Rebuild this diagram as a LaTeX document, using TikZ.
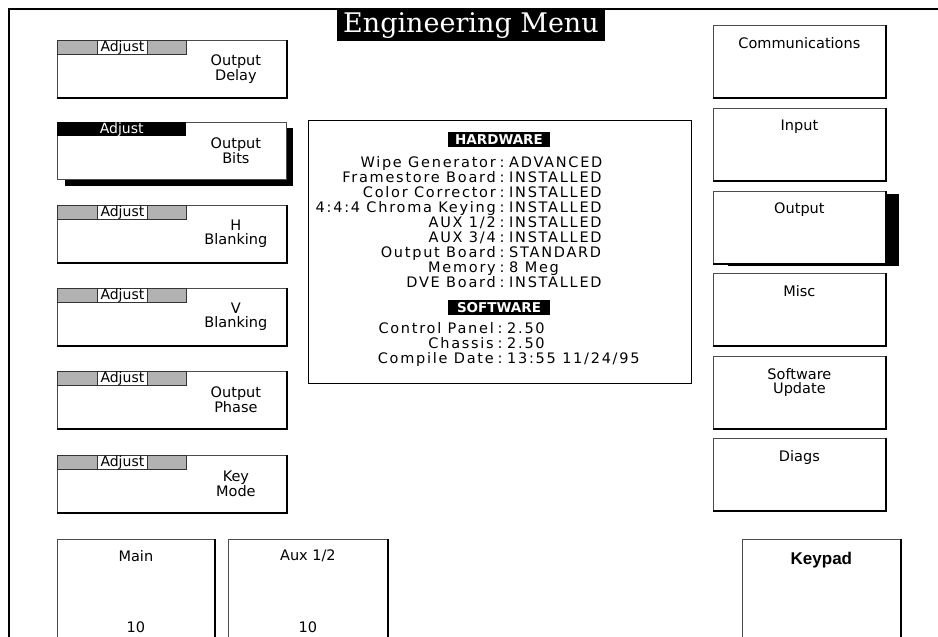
\documentclass[tikz,border=0pt]{standalone}
\usepackage{fontspec}
\setmainfont{DejaVu Sans}
\newfontfamily\titlefont{DejaVu Serif}
\newfontfamily\infofont[LetterSpace=12]{DejaVu Sans}
\newfontfamily\keyfont{Liberation Sans}
\usetikzlibrary{positioning}

\tikzset{
  adjbox/.style={draw=black!70, fill=white, line width=0.8pt, anchor=north west,
    minimum width=229, minimum height=57},
  menubox/.style={draw=black!70, fill=white, line width=0.8pt, anchor=north west,
    minimum width=172, minimum height=72},
  padbox/.style={draw=black!70, fill=white, line width=0.8pt, anchor=north west,
    minimum height=120},
  edge/.style={line width=1.8pt},
  tabgrey/.style={draw=black!80, fill=black!30, line width=0.8pt, anchor=north west,
    minimum width=129, minimum height=14},
  tabwhite/.style={draw=black!80, fill=white, line width=0.8pt, anchor=north west,
    minimum width=50, minimum height=14, text height=10pt, text depth=2pt,
    font=\fontsize{14}{14}\selectfont},
  tabblack/.style={fill=black, text=white, anchor=north west,
    minimum width=129, minimum height=14, text height=10pt, text depth=2pt,
    font=\fontsize{14}{14}\selectfont},
  btntext/.style={align=center, font=\fontsize{14.5}{14}\selectfont},
  tag/.style={fill=black, text=white, minimum width=102, minimum height=15,
    font=\bfseries\fontsize{13.5}{13}\selectfont},
  info/.style={font=\infofont\fontsize{14.5}{15}\selectfont}
}

\begin{document}
\begin{tikzpicture}[x=1pt, y=-1pt, every node/.append style={inner sep=0pt}]
  \useasboundingbox (0,0) rectangle (938,637);
  \clip (0,0) rectangle (938,637);

  % outer frame
  \draw[line width=1.2pt] (9,660) -- (9,9) -- (960,9);
  \node[fill=black, text=white, minimum width=268, minimum height=31,
    font=\titlefont\fontsize{27}{27}\selectfont] (title) at (471,25.5) {Engineering Menu};

  % adjust buttons
  \foreach \nm/\yy/\txt in {od/40/{Output\\Delay}, hb/205/{H\\Blanking},
      vb/288/{V\\Blanking}, oph/371/{Output\\Phase}, km/455/{Key\\Mode}} {
    \node[adjbox] (\nm) at (57,\yy) {};
    \draw[edge] (\nm.north east) -- (\nm.south east) -- (\nm.south west);
    \node[tabgrey] (\nm-tab) at (\nm.north west) {};
    \node[tabwhite] (\nm-adj) at ([xshift=40pt]\nm.north west) {Adjust};
    \node[btntext, xshift=64pt] (\nm-lbl) at (\nm.center) {\txt};
  }

  % selected one
  \fill (65,128) rectangle (293,186);
  \node[adjbox] (ob) at (57,122) {};
  \node[tabblack] (ob-adj) at (ob.north west) {Adjust};
  \node[btntext, xshift=64pt] (ob-lbl) at (ob.center) {Output\\Bits};

  % status panel
  \node[draw, line width=1pt, anchor=north west, minimum width=383,
    minimum height=263] (hw) at (308,120) {};
  \node[tag] (hwtag) at (499,139.5) {HARDWARE};
  \foreach \lab/\val [count=\i] in {Wipe Generator/ADVANCED,
      Framestore Board/INSTALLED, Color Corrector/INSTALLED,
      4:4:4 Chroma Keying/INSTALLED, {AUX 1/2}/INSTALLED, {AUX 3/4}/INSTALLED,
      Output Board/STANDARD, Memory/8 Meg, DVE Board/INSTALLED} {
    \node[info, anchor=base east] (hl\i) at (496,152+15*\i) {\lab};
    \node[info, anchor=base] (hc\i) at (502,152+15*\i) {:};
    \node[info, anchor=base west] (hv\i) at (509,152+15*\i) {\val};
  }
  \node[tag] (swtag) at (499,307.5) {SOFTWARE};
  \foreach \lab/\val [count=\i] in {Control Panel/2.50, Chassis/2.50,
      Compile Date/{13:55 11/24/95}} {
    \node[info, anchor=base east] (sl\i) at (494,318+15*\i) {\lab};
    \node[info, anchor=base] (sc\i) at (500,318+15*\i) {:};
    \node[info, anchor=base west] (sv\i) at (507,318+15*\i) {\val};
  }

  % menu column
  \fill (728,194) rectangle (899,266);
  \foreach \nm/\yy/\txt in {com/25/Communications, inp/108/Input, out/191/Output,
      misc/273/Misc, swu/356/{Software\\Update}, diag/438/Diags} {
    \node[menubox] (\nm) at (713,\yy) {};
    \draw[edge] (\nm.north east) -- (\nm.south east) -- (\nm.south west);
    \node[btntext, below=12pt of \nm.north] (\nm-lbl) {\txt};
  }

  % bottom row
  \node[padbox, minimum width=157] (main) at (57,539) {};
  \node[padbox, minimum width=159] (aux) at (228,539) {};
  \node[padbox, minimum width=158] (kp) at (742,539) {};
  \foreach \nm in {main, aux, kp}
    \draw[edge] (\nm.north east) -- (\nm.south east);
  \node[btntext, below=11pt of main.north] (main-lbl) {Main};
  \node[btntext, below=83pt of main.north] (main-val) {10};
  \node[btntext, below=11pt of aux.north] (aux-lbl) {Aux 1/2};
  \node[btntext, below=83pt of aux.north] (aux-val) {10};
  \node[font=\keyfont\bfseries\fontsize{17}{17}\selectfont,
    below=13pt of kp.north] (kp-lbl) {Keypad};
\end{tikzpicture}
\end{document}
